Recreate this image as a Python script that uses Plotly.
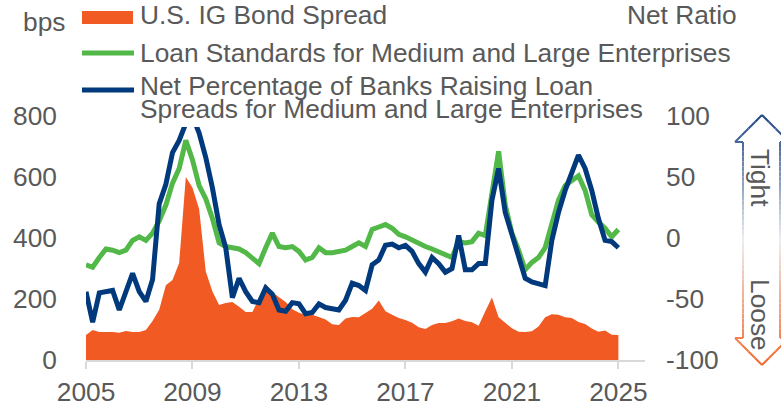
import plotly.graph_objects as go

# ---------------- data (quarterly, 2005Q1 .. 2025Q1) ----------------
quarters = [2005 + 0.25 * i for i in range(81)]

ig_spread = [
    82, 98, 92, 92, 92, 89, 95, 92, 92, 98,
    128, 165, 245, 262, 318, 600, 565, 495, 290, 225,
    180, 187, 190, 175, 157, 157, 205, 250, 222, 207,
    190, 166, 155, 148, 148, 141, 133, 117, 115, 136,
    141, 140, 155, 168, 195, 160, 148, 138, 131, 122,
    107, 102, 115, 121, 121, 127, 136, 128, 124, 112,
    160, 205, 140, 123, 104, 93, 92, 94, 110, 140,
    150, 148, 140, 138, 125, 118, 103, 93, 97, 83, 82,
]

loan_standards = [
    -22, -24, -16, -9, -10, -12, -10, -2, 1, -2,
    4, 14, 27, 45, 57, 80, 64, 43, 32, 16,
    -4, -7, -8, -9, -12, -16, -21, -8, 4, -7,
    -8, -7, -11, -18, -16, -8, -12, -12, -11, -10,
    -7, -4, -7, 7, 9, 11, 8, 3, 1, -2,
    -4, -7, -9, -11, -14, -16, -3, -4, -3, 4,
    2, 35, 71, 27, 4, -10, -26, -20, -16, -8,
    13, 31, 43, 47, 51, 39, 19, 13, 8, 1, 7,
]

net_pct_spread = [
    -44, -69, -45, -44, -43, -59, -44, -29, -44, -52,
    -34, 28, 44, 70, 80, 94, 100, 86, 66, 41,
    11, -8, -49, -33, -44, -52, -53, -41, -46, -59,
    -60, -53, -54, -62, -61, -54, -57, -58, -59, -51,
    -37, -39, -43, -22, -18, -6, -5, -8, -6, -11,
    -21, -28, -16, -21, -28, -25, 2, -26, -26, -21,
    -21, 31, 57, 21, 2, -14, -33, -36, -38, -39,
    -2, 21, 39, 53, 68, 57, 39, 16, -2, -3, -8,
]

x_ticks = [2005, 2009, 2013, 2017, 2021, 2025]
left_ticks = [0, 200, 400, 600, 800]
right_ticks = [-100, -50, 0, 50, 100]
right_tick_text = ["-100", "-50", "0", "50", "100"]

names = [
    "U.S. IG Bond Spread",
    "Loan Standards for Medium and Large Enterprises",
    "Net Percentage of Banks Raising Loan",
    "Spreads for Medium and Large Enterprises",
]

# ---------------- style ----------------
ORANGE = "#F15A22"
GREEN = "#52B848"
BLUE = "#003A7D"
GREY = "#595959"
AXIS = "#D9D9D9"
FONT = "Liberation Sans, Arial, sans-serif"
FS = 26.3

W, H = 781, 406
L, R, T, B = 86, 136, 116, 46
PW, PH = W - L - R, H - T - B


def px(x):
    return (x - L) / PW


def py(y):
    return (H - B - y) / PH


fig = go.Figure()
fig.add_trace(go.Scatter(
    x=quarters, y=ig_spread, mode="lines", fill="tozeroy",
    line=dict(width=0, color=ORANGE), fillcolor=ORANGE,
    name=names[0], yaxis="y", hoverinfo="skip"))
fig.add_trace(go.Scatter(
    x=quarters, y=loan_standards, mode="lines",
    line=dict(width=5, color=GREEN), name=names[1], yaxis="y2"))
fig.add_trace(go.Scatter(
    x=quarters, y=net_pct_spread, mode="lines",
    line=dict(width=5, color=BLUE), name=names[2], yaxis="y2"))

shapes = []
# white legend background hiding the 2009 peak (as in the original)
shapes.append(dict(type="rect", xref="paper", yref="paper",
                   x0=px(138), x1=px(645), y0=py(127), y1=py(-5),
                   fillcolor="white", line=dict(width=0), layer="above"))
# legend symbols
shapes.append(dict(type="rect", xref="paper", yref="paper",
                   x0=px(82), x1=px(133), y0=py(24), y1=py(11),
                   fillcolor=ORANGE, line=dict(width=0), layer="above"))
shapes.append(dict(type="line", xref="paper", yref="paper",
                   x0=px(82), x1=px(134), y0=py(53), y1=py(53),
                   line=dict(color=GREEN, width=5), layer="above"))
shapes.append(dict(type="line", xref="paper", yref="paper",
                   x0=px(82), x1=px(134), y0=py(90), y1=py(90),
                   line=dict(color=BLUE, width=5), layer="above"))

# Tight / Loose double arrow with blue->white->orange gradient outline
top_c = (28, 66, 130)
mid_c = (238, 238, 242)
bot_c = (242, 102, 40)
Y_TOP, Y_BOT = 115, 365


def grad(y):
    t = (y - Y_TOP) / (Y_BOT - Y_TOP)
    t = min(max(t, 0), 1)
    if t < 0.5:
        a, b, u = top_c, mid_c, t / 0.5
    else:
        a, b, u = mid_c, bot_c, (t - 0.5) / 0.5
    c = [round(a[k] + (b[k] - a[k]) * u) for k in range(3)]
    return "rgb(%d,%d,%d)" % tuple(c)


def seg(x0, y0, x1, y1, n):
    for k in range(n):
        xa = x0 + (x1 - x0) * k / n
        ya = y0 + (y1 - y0) * k / n
        xb = x0 + (x1 - x0) * (k + 1) / n
        yb = y0 + (y1 - y0) * (k + 1) / n
        shapes.append(dict(type="line", xref="paper", yref="paper",
                           x0=px(xa), y0=py(ya), x1=px(xb), y1=py(yb),
                           line=dict(color=grad((ya + yb) / 2), width=2),
                           layer="above"))


CX, SHL, SHR, HL, HR = 762, 743, 780, 735, 789
HT, HB = 142, 338
seg(CX, Y_TOP, HL, HT, 4)
seg(CX, Y_TOP, HR, HT, 4)
seg(HL, HT, SHL, HT, 1)
seg(SHR, HT, HR, HT, 1)
seg(SHL, HT, SHL, HB, 40)
seg(SHR, HT, SHR, HB, 40)
seg(HL, HB, SHL, HB, 1)
seg(SHR, HB, HR, HB, 1)
seg(HL, HB, CX, Y_BOT, 4)
seg(HR, HB, CX, Y_BOT, 4)

annotations = []


def txt(text, x, y, anchor="left", angle=0):
    annotations.append(dict(
        text=text, xref="paper", yref="paper", x=px(x), y=py(y),
        xanchor=anchor, yanchor="middle", showarrow=False, textangle=angle,
        font=dict(family=FONT, size=FS, color=GREY)))


txt("bps", 21, 22)
txt("Net Ratio", 625, 15)
txt(names[0], 138, 15)
txt(names[1], 138, 53)
txt(names[2], 138, 86)
txt(names[3], 138, 109)
txt("Tight", 760, 178, anchor="center", angle=90)
txt("Loose", 760, 315, anchor="center", angle=90)

fig.update_layout(
    width=W, height=H,
    margin=dict(l=L, r=R, t=T, b=B, pad=0, autoexpand=False),
    paper_bgcolor="white", plot_bgcolor="white",
    showlegend=False,
    font=dict(family=FONT, size=FS, color=GREY),
    xaxis=dict(range=[2005, 2026], tickvals=x_ticks, showgrid=False,
               zeroline=False, showline=True, linecolor=AXIS, linewidth=2,
               ticks="outside", ticklen=7, tickcolor=AXIS, tickwidth=2,
               automargin=False,
               tickfont=dict(size=FS, color=GREY), fixedrange=True),
    yaxis=dict(range=[0, 800], tickvals=left_ticks, showgrid=False,
               zeroline=False, showline=False, ticks="",
               ticklabelstandoff=28, automargin=False,
               tickfont=dict(size=FS, color=GREY), fixedrange=True),
    yaxis2=dict(range=[-100, 100], tickvals=right_ticks,
                ticktext=right_tick_text, overlaying="y", side="right",
                showgrid=False, zeroline=False, showline=False, ticks="",
                ticklabelstandoff=20, automargin=False,
                tickfont=dict(size=FS, color=GREY), fixedrange=True),
    shapes=shapes,
    annotations=annotations,
)

fig.write_html("out.html")
